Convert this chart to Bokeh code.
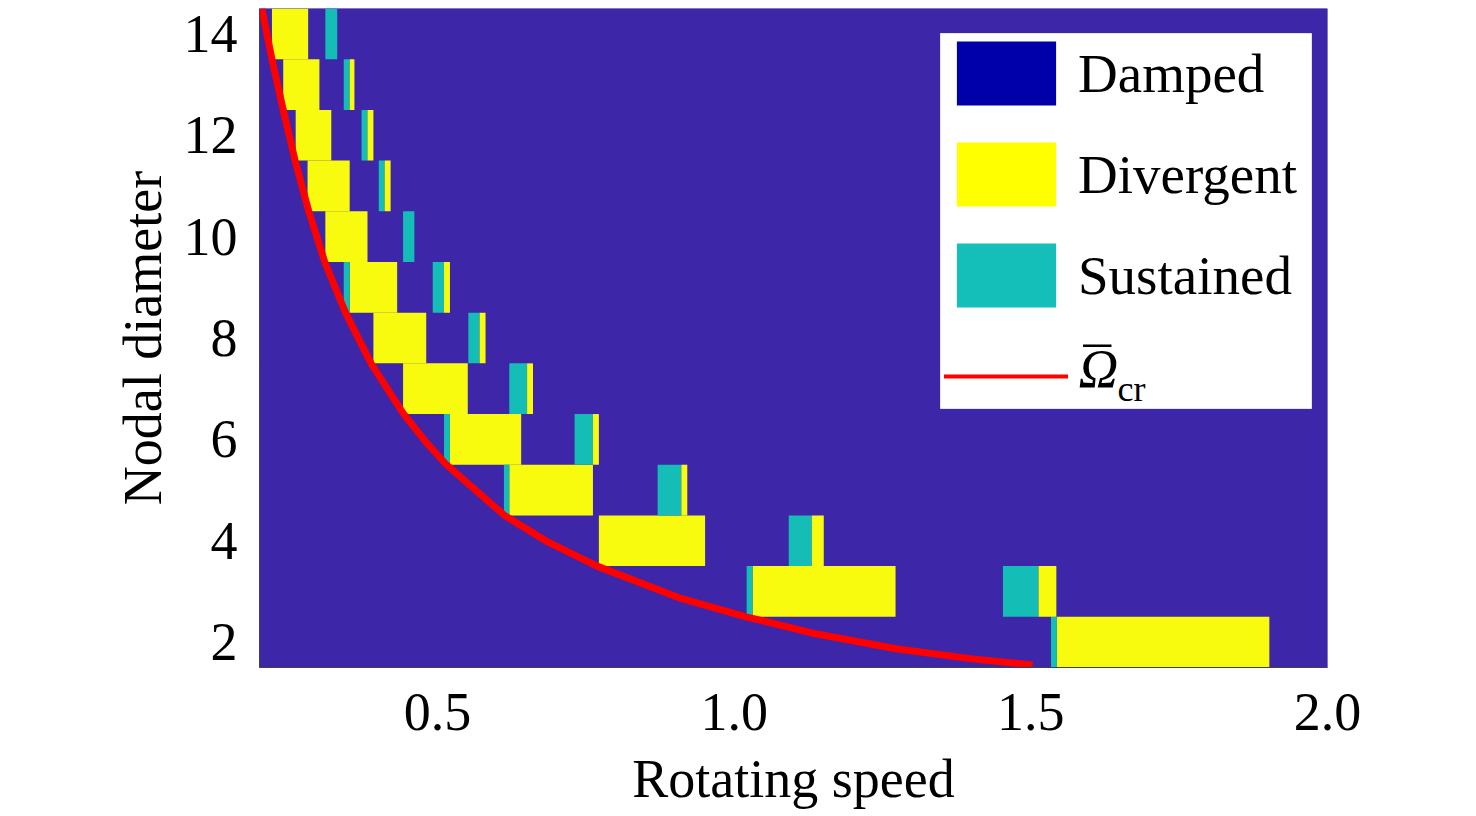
from bokeh.plotting import figure
from bokeh.models import (Range1d, FixedTicker, PrintfTickFormatter, Legend, LegendItem,
                          Label, ColumnDataSource, BoxAnnotation)
from bokeh.transform import factor_cmap
from bokeh.embed import file_html
from bokeh.resources import INLINE

# ---------------- data ----------------
nodal_diameters = [2, 3, 4, 5, 6, 7, 8, 9, 10, 11, 12, 13, 14]
speed_min, speed_max = 0.2, 2.0

# main divergent band per nodal diameter
div_nd    = [14, 13, 12, 11, 10, 9, 8, 7, 6, 5, 4, 3, 2]
div_start = [0.221, 0.240, 0.261, 0.281, 0.311, 0.352, 0.392, 0.442, 0.521, 0.621, 0.772, 1.031, 1.544]
div_end   = [0.282, 0.301, 0.321, 0.352, 0.382, 0.432, 0.481, 0.551, 0.641, 0.762, 0.951, 1.272, 1.902]

# thin sustained strip on the left of the divergent band
lead_nd    = [9, 6, 5, 3, 2]
lead_start = [0.342, 0.511, 0.612, 1.021, 1.534]
lead_end   = [0.352, 0.521, 0.621, 1.031, 1.544]

# second (sustained) island
sus_nd    = [14, 13, 12, 11, 10, 9, 8, 7, 6, 5, 4, 3]
sus_start = [0.311, 0.342, 0.372, 0.401, 0.442, 0.492, 0.552, 0.621, 0.731, 0.871, 1.092, 1.453]
sus_end   = [0.331, 0.352, 0.382, 0.411, 0.461, 0.511, 0.571, 0.651, 0.762, 0.911, 1.131, 1.513]

# divergent strip on the right of the sustained island
tail_nd    = [13, 12, 11, 9, 8, 7, 6, 5, 4, 3]
tail_start = [0.352, 0.382, 0.411, 0.511, 0.571, 0.651, 0.762, 0.911, 1.131, 1.513]
tail_end   = [0.360, 0.392, 0.421, 0.521, 0.581, 0.661, 0.772, 0.921, 1.151, 1.543]

# critical speed curve
omega_cr_speed = [0.204, 0.221, 0.240, 0.260, 0.283, 0.310, 0.345, 0.388, 0.443, 0.481,
                  0.515, 0.613, 0.684, 0.769, 0.906, 1.020, 1.139, 1.273, 1.401, 1.503]
omega_cr_nd    = [14.50, 13.50, 12.50, 11.50, 10.50, 9.50, 8.50, 7.50, 6.50, 5.94,
                  5.50, 4.50, 3.99, 3.50, 2.88, 2.50, 2.16, 1.87, 1.67, 1.55]

states = ["Damped", "Divergent", "Sustained"]
map_colors = ["#3E26A8", "#F9FB0E", "#14BEB6"]
legend_colors = ["#0000AA", "#FFFF00", "#14BEB9"]

x_ticks = [0.5, 1.0, 1.5, 2.0]
y_ticks = [2, 4, 6, 8, 10, 12, 14]

# ---------------- build cells ----------------
seg_nd, seg_l, seg_r, seg_state = [], [], [], []
for nd in nodal_diameters:
    seg_nd.append(nd); seg_l.append(speed_min); seg_r.append(speed_max); seg_state.append("Damped")
for nds, ls, rs, st in [(div_nd, div_start, div_end, "Divergent"),
                        (lead_nd, lead_start, lead_end, "Sustained"),
                        (sus_nd, sus_start, sus_end, "Sustained"),
                        (tail_nd, tail_start, tail_end, "Divergent")]:
    for nd, l, r in zip(nds, ls, rs):
        seg_nd.append(nd); seg_l.append(l); seg_r.append(r); seg_state.append(st)

src = ColumnDataSource(dict(
    left=seg_l, right=seg_r,
    bottom=[n - 0.5 for n in seg_nd], top=[n + 0.5 for n in seg_nd],
    state=seg_state))

FONT = "Liberation Serif"

p = figure(frame_width=1068, frame_height=659,
           x_range=Range1d(speed_min, speed_max), y_range=Range1d(1.5, 14.5),
           output_backend="svg", toolbar_location=None,
           min_border_left=259, min_border_right=140, min_border_top=8, min_border_bottom=146)
p.outline_line_color = None
p.grid.visible = False
p.background_fill_color = map_colors[0]
p.border_fill_color = "white"

p.quad(left="left", right="right", bottom="bottom", top="top", source=src,
       fill_color=factor_cmap("state", palette=map_colors, factors=states),
       line_color=None)

p.line(omega_cr_speed, omega_cr_nd, line_color="#FF0000", line_width=7, line_join="round")

# axes
p.xaxis.ticker = FixedTicker(ticks=x_ticks)
p.xaxis.formatter = PrintfTickFormatter(format="%.1f")
p.yaxis.ticker = FixedTicker(ticks=y_ticks)
p.xaxis.axis_label = "Rotating speed"
p.yaxis.axis_label = "Nodal diameter"
for ax in (p.xaxis[0], p.yaxis[0]):
    ax.major_tick_line_color = None
    ax.minor_tick_line_color = None
    ax.major_tick_in = 0
    ax.major_tick_out = 0
    ax.axis_line_color = "#404050"
    ax.axis_line_width = 1
    ax.major_label_text_font = FONT
    ax.major_label_text_font_size = "54px"
    ax.major_label_text_color = "black"
    ax.axis_label_text_font = FONT
    ax.axis_label_text_font_size = "54px"
    ax.axis_label_text_font_style = "normal"
    ax.axis_label_text_color = "black"
p.xaxis.major_label_standoff = 26
p.xaxis.axis_label_standoff = 16
p.yaxis.major_label_standoff = 22
p.yaxis.axis_label_standoff = 8

# white legend panel (drawn first, legend itself is transparent on top of it)
p.add_layout(BoxAnnotation(left=681, right=1052, top=634, bottom=259,
                           left_units="screen", right_units="screen",
                           top_units="screen", bottom_units="screen",
                           fill_color="white", fill_alpha=1.0,
                           line_color="#e4e4e4", line_alpha=1.0, line_width=1))

# legend label of the curve: italic Omega with an over-bar and subscript "cr"
for txt, lx, ly, size, style in [("\u03A9", 819, 299, "55px", "italic"),
                                 ("\u00AF", 824, 300, "55px", "normal"),
                                 ("cr", 858, 279, "36px", "normal")]:
    p.add_layout(Label(x=lx, y=ly, x_units="screen", y_units="screen", text=txt,
                       text_font=FONT, text_font_size=size, text_font_style=style,
                       text_color="black", text_baseline="alphabetic"))

# legend: proxy renderers (one undrawn NaN point each) carry the legend swatch styles
nan = float("nan")
r_d = p.quad(left=[nan], right=[nan], top=[nan], bottom=[nan], fill_color=legend_colors[0], line_color=None)
r_v = p.quad(left=[nan], right=[nan], top=[nan], bottom=[nan], fill_color=legend_colors[1], line_color=None)
r_s = p.quad(left=[nan], right=[nan], top=[nan], bottom=[nan], fill_color=legend_colors[2], line_color=None)
r_l = p.line(x=[nan, nan], y=[nan, nan], line_color="#FF0000", line_width=4, line_cap="round")

legend = Legend(items=[LegendItem(label=states[0], renderers=[r_d]),
                       LegendItem(label=states[1], renderers=[r_v]),
                       LegendItem(label=states[2], renderers=[r_s]),
                       LegendItem(label=" ", renderers=[r_l])],
                location=(685, 251),
                glyph_width=124, glyph_height=80, label_height=80,
                label_standoff=10, spacing=21, padding=4, margin=0,
                label_text_font=FONT, label_text_font_size="55px",
                label_text_color="black", label_text_baseline="middle",
                background_fill_alpha=0.0, border_line_color=None)
p.add_layout(legend)

open("out.html", "w").write(file_html(p, INLINE))
